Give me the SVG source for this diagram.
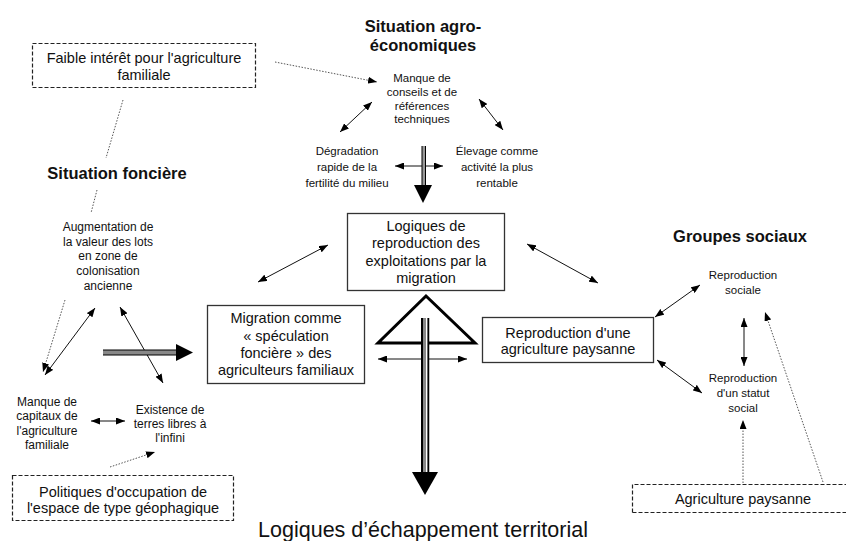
<svg xmlns="http://www.w3.org/2000/svg" width="846" height="541" viewBox="0 0 846 541">
<defs>
<marker id="ah" viewBox="0 0 9 7" refX="9" refY="3.5" markerWidth="9" markerHeight="7" markerUnits="userSpaceOnUse" orient="auto-start-reverse">
<path d="M0,0 L9,3.5 L0,7 z" fill="#000"/>
</marker>
<style>
text{font-family:"Liberation Sans",Arial,sans-serif;fill:#111;text-anchor:middle}
.b{font-size:14.5px}
.s{font-size:11.5px}
.m{font-size:12px}
.t{font-size:16.5px;font-weight:bold}
.big{font-size:21.5px}
.box{fill:#fff;stroke:#333;stroke-width:1.3}
.dbox{fill:none;stroke:#222;stroke-width:1.2;stroke-dasharray:4 2}
.c{fill:none;stroke:#111;stroke-width:1;marker-start:url(#ah);marker-end:url(#ah)}
.d{fill:none;stroke:#555;stroke-width:1;stroke-dasharray:1.5 1.5;marker-end:url(#ah)}
</style>
</defs>
<rect width="846" height="541" fill="#fff"/>

<g id="titles">
<text class="t" x="423" y="32">Situation agro-</text>
<text class="t" x="423" y="51">économiques</text>
<text class="t" x="117" y="179">Situation foncière</text>
<text class="t" x="740" y="242">Groupes sociaux</text>
<text class="big" x="423" y="537">Logiques d’échappement territorial</text>
</g>

<g id="faible">
<rect class="dbox" x="32.5" y="43.5" width="223" height="44"/>
<text class="b" x="144" y="63">Faible intérêt pour l'agriculture</text>
<text class="b" x="144" y="80">familiale</text>
</g>

<g id="politiques">
<rect class="dbox" x="12.5" y="475.5" width="221" height="45"/>
<text class="b" x="123" y="497">Politiques d'occupation de</text>
<text class="b" x="123" y="513">l'espace de type géophagique</text>
</g>

<g id="agripaysanne">
<path class="dbox" d="M632.5,512.5 V484.5 H846 M632.5,512.5 H846"/>
<text class="b" x="743" y="504">Agriculture paysanne</text>
</g>

<g id="manque-conseils">
<text class="s" x="422" y="82">Manque de</text>
<text class="s" x="422" y="96">conseils et de</text>
<text class="s" x="422" y="110">références</text>
<text class="s" x="422" y="123">techniques</text>
</g>

<g id="degradation">
<text class="s" x="347" y="155">Dégradation</text>
<text class="s" x="347" y="171">rapide de la</text>
<text class="s" x="347" y="187">fertilité du milieu</text>
</g>

<g id="elevage">
<text class="s" x="497" y="155">Élevage comme</text>
<text class="s" x="497" y="171">activité la plus</text>
<text class="s" x="497" y="187">rentable</text>
</g>

<g id="logiques-repro">
<rect class="box" x="347.5" y="213.5" width="157" height="77"/>
<text class="b" x="426" y="231">Logiques de</text>
<text class="b" x="426" y="248">reproduction des</text>
<text class="b" x="426" y="266">exploitations par la</text>
<text class="b" x="426" y="283">migration</text>
</g>

<g id="migration">
<rect class="box" x="207.5" y="305.5" width="157" height="78"/>
<text class="b" x="286" y="323">Migration comme</text>
<text class="b" x="286" y="341">« spéculation</text>
<text class="b" x="286" y="358">foncière » des</text>
<text class="b" x="286" y="375">agriculteurs familiaux</text>
</g>

<g id="repro-agri">
<rect class="box" x="482.5" y="317.5" width="171" height="45"/>
<text class="b" x="568" y="338">Reproduction d'une</text>
<text class="b" x="568" y="354">agriculture paysanne</text>
</g>

<g id="augmentation">
<text class="m" x="108" y="231">Augmentation de</text>
<text class="m" x="108" y="246">la valeur des lots</text>
<text class="m" x="108" y="260">en zone de</text>
<text class="m" x="108" y="275">colonisation</text>
<text class="m" x="108" y="290">ancienne</text>
</g>

<g id="manque-capitaux">
<text class="m" x="47" y="406">Manque de</text>
<text class="m" x="47" y="420">capitaux de</text>
<text class="m" x="47" y="435">l'agriculture</text>
<text class="m" x="47" y="449">familiale</text>
</g>

<g id="existence">
<text class="m" x="170" y="414">Existence de</text>
<text class="m" x="170" y="428">terres libres à</text>
<text class="m" x="170" y="442">l'infini</text>
</g>

<g id="repro-sociale">
<text class="s" x="743" y="279">Reproduction</text>
<text class="s" x="743" y="294">sociale</text>
</g>

<g id="repro-statut">
<text class="s" x="743" y="382">Reproduction</text>
<text class="s" x="743" y="397">d'un statut</text>
<text class="s" x="743" y="412">social</text>
</g>

<g id="triangle">
<polygon points="426,296 378,343 475,343" fill="none" stroke="#000" stroke-width="3" stroke-linejoin="miter"/>
</g>

<g id="connectors">
<path class="c" d="M372,102 L340,132"/>
<path class="c" d="M479,99 L503,130"/>
<path class="c" d="M395,166 L443,166"/>
<path class="c" d="M328,245 L258,282"/>
<path class="c" d="M527,244 L598,283"/>
<path class="c" d="M378,359 L467,359"/>
<path class="c" d="M95,308 L45,375"/>
<path class="c" d="M120,307 L163,383"/>
<path class="c" d="M91,421 L125,421"/>
<path class="c" d="M700,285 L655,317"/>
<path class="c" d="M744,318 L744,366"/>
<path class="c" d="M657,360 L702,393"/>

<path class="d" d="M275,62 L377,82"/>
<path class="d" d="M123,100 L106,158 M97,190 L91,213 M65,300 L43,372"/>
<path class="d" d="M110,467 L155,452"/>
<path class="d" d="M743,483 L743,420"/>
<path class="d" d="M823,482 L765,312"/>

<!-- upper double-shaft arrow -->
<rect x="422" y="146" width="3.5" height="40" fill="#999"/>
<line x1="422" y1="146" x2="422" y2="186" stroke="#000" stroke-width="1"/>
<line x1="425.5" y1="146" x2="425.5" y2="186" stroke="#000" stroke-width="1"/>
<polygon points="414,185 432,185 423,203" fill="#000"/>

<!-- main double-shaft arrow -->
<rect x="421" y="318" width="8" height="155" fill="#888"/>
<line x1="422" y1="318" x2="422" y2="473" stroke="#000" stroke-width="2"/>
<line x1="426.5" y1="318" x2="426.5" y2="473" stroke="#fff" stroke-width="1"/>
<line x1="428.5" y1="318" x2="428.5" y2="473" stroke="#000" stroke-width="1.5"/>
<polygon points="412,472 438,472 425,495" fill="#000"/>

<!-- left double-shaft arrow -->
<rect x="103" y="350" width="75" height="5" fill="#888"/>
<line x1="103" y1="350" x2="178" y2="350" stroke="#000" stroke-width="1"/>
<line x1="103" y1="355" x2="178" y2="355" stroke="#000" stroke-width="1"/>
<polygon points="176,344 176,361 193,352.5" fill="#000"/>
</g>
</svg>
